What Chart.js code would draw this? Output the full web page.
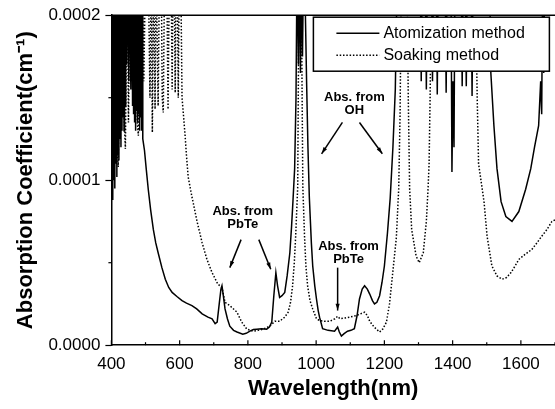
<!DOCTYPE html>
<html>
<head>
<meta charset="utf-8">
<script src="https://cdn.jsdelivr.net/npm/chart.js@4.4.1/dist/chart.umd.min.js"></script>
<style>
  html, body { margin: 0; padding: 0; background: #fff; }
  canvas { display: block; }
</style>
</head>
<body>
<canvas id="absChart" width="555" height="409"></canvas>
<script>
// values in units of 1e-4 cm-1; 2.3 = off the top of the frame (clipped)
const atomWavelength = [400,401.5,403,404,405.5,407,408.5,410,411.5,413,414.5,416,417.5,419,420.5,422,423.5,425,426.5,428,429.5,431,432.5,434,435.5,437,438.5,440,442,445,448,451,454,457,460,462,463.5,465,466.5,468,469.5,471,472.5,474,475.5,477,478.5,480,481.5,483,484.5,486,487.5,489,490.5,492,497,502,508,515,523,530,537,548,558,568,578,592,607,620,636,650,666,683,695,704,710,716,721,724,728,733,740,747,758,768,785,795,806,816,826,840,855,863,870,876,882,887,893,900,908,915,923,928,932,937,941,944,948,951,954,957,960,963,966,972,976,980,986,990,996,1001,1006,1010,1019,1035,1054,1063,1068,1074,1082,1092,1102,1112,1120,1127,1135,1142,1150,1157,1165,1171,1178,1186,1193,1200,1209,1217,1225,1232,1238,1305,1308,1311,1320,1323,1326,1338,1341,1344,1352,1355,1358,1378,1381,1384,1395,1398,1401,1404,1407,1425,1428,1431,1437,1440,1443,1454,1457,1460,1508,1512,1521,1530,1542,1556,1574,1594,1614,1629,1640,1652,1658,1661,1664,1667,1670,1700];
const atomAbs = [2.3,0.92,2.3,0.88,2.3,1.0,2.3,0.95,2.3,1.1,2.3,1.02,2.3,1.15,2.3,1.12,2.3,1.25,2.3,1.2,2.3,1.3,2.3,1.38,2.3,1.3,2.3,1.45,2.3,1.7,2.3,1.6,2.3,1.55,2.3,1.45,2.3,1.4,2.3,1.35,2.3,1.3,2.3,1.42,2.3,1.35,2.3,1.4,2.3,1.3,2.3,1.38,2.3,1.3,2.3,1.25,1.18,1.07,0.945,0.82,0.70,0.62,0.56,0.47,0.40,0.35,0.32,0.295,0.27,0.255,0.24,0.22,0.19,0.17,0.16,0.13,0.14,0.25,0.34,0.36,0.30,0.22,0.16,0.115,0.09,0.08,0.067,0.072,0.085,0.095,0.097,0.10,0.097,0.11,0.14,0.30,0.44,0.36,0.29,0.30,0.32,0.42,0.56,0.72,0.87,1.07,1.5,2.3,1.7,2.3,1.65,2.3,1.75,2.3,2.3,1.6,1.2,0.9,0.62,0.48,0.36,0.28,0.21,0.17,0.10,0.09,0.085,0.11,0.08,0.055,0.07,0.085,0.09,0.10,0.18,0.28,0.34,0.36,0.34,0.31,0.27,0.25,0.26,0.30,0.38,0.48,0.68,0.89,1.2,1.55,2.3,2.3,1.6,2.3,2.3,1.55,2.3,2.3,1.6,2.3,2.3,1.52,2.3,2.3,1.53,2.3,2.3,1.05,1.6,1.2,2.3,2.3,1.57,2.3,2.3,1.57,2.3,2.3,1.51,2.3,2.3,1.65,1.33,1.07,0.87,0.78,0.75,0.81,0.945,1.07,1.2,1.33,1.6,1.4,2.3,1.65,2.3,2.3];

const soakWavelength = [400,405,410,415,420,425,433,437,441,446,450,455,462,467,472,476,479,484,490,495,500,508,513,517,520,524,528,531,537,541,546,549,552,556,562,566,570,575,578,581,584,587,590,593,596,599,603,607,611,616,620,625,636,651,666,680,695,712,724,733,747,768,782,797,815,830,844,864,879,893,908,918,925,931,936,940,946,950,956,961,966,970,975,982,990,1001,1010,1025,1040,1055,1063,1070,1085,1098,1118,1130,1142,1150,1157,1170,1186,1196,1206,1215,1225,1235,1242,1246,1250,1266,1270,1274,1280,1293,1302,1314,1323,1328,1331,1334,1338,1466,1472,1476,1483,1492,1501,1515,1530,1545,1558,1571,1583,1594,1612,1632,1647,1661,1676,1691,1700];
const soakAbs = [2.3,1.2,2.3,1.3,1.08,2.3,2.3,1.4,1.19,2.3,1.35,2.3,2.3,1.5,2.3,1.35,1.27,2.3,2.3,1.6,2.3,2.3,1.5,2.3,1.29,2.3,1.43,2.3,1.45,2.3,2.3,1.5,1.41,2.3,2.3,1.43,2.3,2.3,1.55,2.3,2.3,1.53,2.3,2.3,1.5,2.3,2.3,1.5,1.4,1.27,1.15,1.02,0.90,0.75,0.62,0.52,0.44,0.37,0.35,0.26,0.24,0.20,0.14,0.097,0.085,0.09,0.097,0.115,0.145,0.145,0.17,0.20,0.26,0.36,0.50,0.66,0.96,2.3,2.3,0.96,0.66,0.48,0.36,0.27,0.22,0.16,0.15,0.145,0.145,0.16,0.175,0.16,0.165,0.17,0.18,0.19,0.20,0.18,0.145,0.11,0.08,0.10,0.14,0.25,0.45,0.65,0.95,1.4,2.3,2.3,1.5,0.95,0.70,0.54,0.50,0.56,0.75,0.95,1.1,1.5,2.3,2.3,1.5,1.1,1.0,0.87,0.66,0.48,0.42,0.40,0.41,0.44,0.48,0.52,0.55,0.58,0.62,0.66,0.70,0.75,0.76];

const xTicks = [400, 600, 800, 1000, 1200, 1400, 1600];
const xTickLabels = ['400', '600', '800', '1000', '1200', '1400', '1600'];
const xMinorTicks = [500, 700, 900, 1100, 1300, 1500, 1700];
const yTicks = [0, 1, 2];
const yTickLabels = ['0.0000', '0.0001', '0.0002'];
const yMinorTicks = [0.5, 1.5];

const seriesNames = ['Atomization method', 'Soaking method'];

// annotation anchors in data units (wavelength, 1e-4 cm-1)
const notes = [
  { lines: ['Abs. from', 'PbTe'], x: 785, y: 0.81 },
  { lines: ['Abs. from', 'OH'], x: 1112, y: 1.50 },
  { lines: ['Abs. from', 'PbTe'], x: 1095, y: 0.60 }
];
const arrows = [
  { from: [780, 0.64], to: [747, 0.47] },
  { from: [832, 0.64], to: [867, 0.46] },
  { from: [1077, 1.35], to: [1016, 1.16] },
  { from: [1127, 1.35], to: [1194, 1.16] },
  { from: [1063, 0.47], to: [1063, 0.21] }
];

const FONT = "'Liberation Sans', Arial, Helvetica, sans-serif";

function toPoints(xs, ys) {
  return xs.map((x, i) => ({ x: x, y: ys[i] }));
}

const extras = {
  id: 'extras',
  afterDatasetsDraw(chart) {
    const ctx = chart.ctx;
    const ca = chart.chartArea;
    const xs = chart.scales.x, ys = chart.scales.y;
    ctx.save();
    ctx.strokeStyle = '#000';
    ctx.fillStyle = '#000';

    // top frame line
    ctx.lineWidth = 1.5;
    ctx.beginPath();
    ctx.moveTo(ca.left, ca.top);
    ctx.lineTo(ca.right, ca.top);
    ctx.stroke();

    // inward x ticks, outward minor y ticks
    ctx.lineWidth = 1.2;
    xTicks.forEach(v => {
      const px = xs.getPixelForValue(v);
      ctx.beginPath(); ctx.moveTo(px, ca.bottom); ctx.lineTo(px, ca.bottom - 5); ctx.stroke();
    });
    xMinorTicks.forEach(v => {
      const px = xs.getPixelForValue(v);
      ctx.beginPath(); ctx.moveTo(px, ca.bottom); ctx.lineTo(px, ca.bottom - 3); ctx.stroke();
    });
    yMinorTicks.forEach(v => {
      const py = ys.getPixelForValue(v);
      ctx.beginPath(); ctx.moveTo(ca.left, py); ctx.lineTo(ca.left - 3, py); ctx.stroke();
    });

    // annotations
    ctx.font = 'bold 13px ' + FONT;
    ctx.textAlign = 'center';
    ctx.textBaseline = 'middle';
    notes.forEach(n => {
      const px = xs.getPixelForValue(n.x);
      const py = ys.getPixelForValue(n.y);
      n.lines.forEach((t, i) => ctx.fillText(t, px, py + i * 13));
    });
    ctx.lineWidth = 1.5;
    arrows.forEach(a => {
      const x1 = xs.getPixelForValue(a.from[0]), y1 = ys.getPixelForValue(a.from[1]);
      const x2 = xs.getPixelForValue(a.to[0]), y2 = ys.getPixelForValue(a.to[1]);
      ctx.beginPath(); ctx.moveTo(x1, y1); ctx.lineTo(x2, y2); ctx.stroke();
      const ang = Math.atan2(y2 - y1, x2 - x1);
      const L = 7, W = 0.3;
      ctx.beginPath();
      ctx.moveTo(x2, y2);
      ctx.lineTo(x2 - L * Math.cos(ang - W), y2 - L * Math.sin(ang - W));
      ctx.lineTo(x2 - L * Math.cos(ang + W), y2 - L * Math.sin(ang + W));
      ctx.closePath();
      ctx.fill();
    });

    // legend box
    const bx = ca.left + 202, by = ca.top + 2, bw = 236, bh = 54;
    ctx.fillStyle = '#fff';
    ctx.fillRect(bx, by, bw, bh);
    ctx.lineWidth = 1.5;
    ctx.strokeRect(bx, by, bw, bh);
    ctx.fillStyle = '#000';
    ctx.font = '16px ' + FONT;
    ctx.textAlign = 'left';
    chart.data.datasets.forEach((ds, i) => {
      const ly = by + 16 + i * 22;
      ctx.strokeStyle = ds.borderColor;
      ctx.lineWidth = ds.borderWidth;
      ctx.setLineDash(ds.borderDash || []);
      ctx.beginPath(); ctx.moveTo(bx + 23, ly); ctx.lineTo(bx + 66, ly); ctx.stroke();
      ctx.setLineDash([]);
      ctx.fillText(ds.label, bx + 70, ly);
    });
    ctx.restore();
  }
};

new Chart(document.getElementById('absChart'), {
  type: 'line',
  data: {
    datasets: [{
      label: seriesNames[0],
      data: toPoints(atomWavelength, atomAbs),
      borderColor: '#000',
      borderWidth: 1.5,
      pointRadius: 0,
      tension: 0
    }, {
      label: seriesNames[1],
      data: toPoints(soakWavelength, soakAbs),
      borderColor: '#000',
      borderWidth: 1.5,
      borderDash: [1.5, 1.8],
      pointRadius: 0,
      tension: 0
    }]
  },
  options: {
    responsive: false,
    animation: false,
    devicePixelRatio: 1,
    layout: { padding: { top: 14, right: 0, left: 13, bottom: 7 } },
    plugins: { legend: { display: false }, tooltip: { enabled: false } },
    scales: {
      x: {
        type: 'linear', min: 400, max: 1700,
        afterBuildTicks: s => { s.ticks = xTicks.map(v => ({ value: v })); },
        ticks: { color: '#000', font: { family: FONT, size: 17 }, padding: 9, maxRotation: 0, callback: (v, i) => xTickLabels[i] },
        grid: { drawOnChartArea: false, drawTicks: false },
        border: { color: '#000', width: 1.5 },
        title: { display: true, text: 'Wavelength(nm)', color: '#000', font: { family: FONT, size: 22, weight: 'bold' }, padding: { top: -8, bottom: 0 } }
      },
      y: {
        min: 0, max: 2,
        afterBuildTicks: s => { s.ticks = yTicks.map(v => ({ value: v })); },
        ticks: { color: '#000', font: { family: FONT, size: 17 }, padding: 5, callback: (v, i) => yTickLabels[i] },
        grid: { drawOnChartArea: false, tickLength: 6, tickColor: '#000', tickWidth: 1.2 },
        border: { color: '#000', width: 1.5 },
        title: { display: true, text: 'Absorption Coefficient(cm\u207B\u00B9)', color: '#000', font: { family: FONT, size: 22, weight: 'bold' }, padding: { top: 0, bottom: 4 } }
      }
    }
  },
  plugins: [extras]
});
</script>
</body>
</html>
